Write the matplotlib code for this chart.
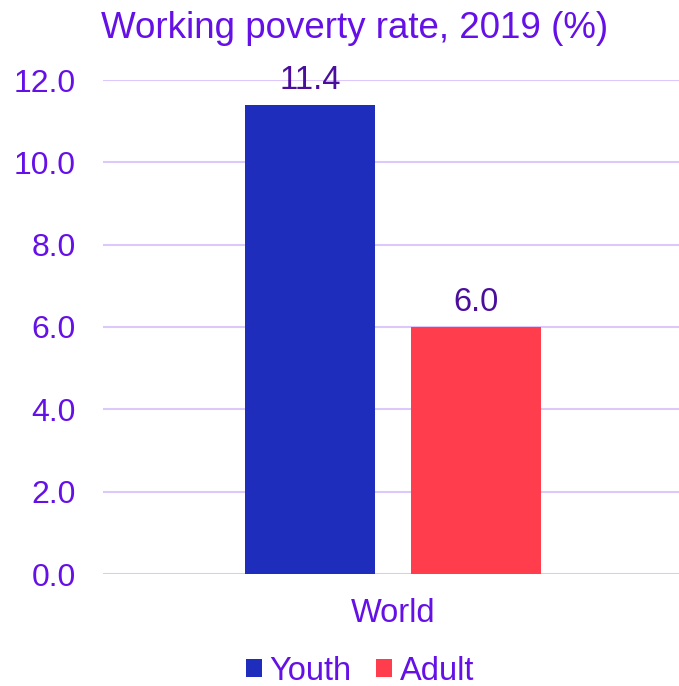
import numpy as np
import matplotlib.pyplot as plt

plt.rcParams['font.family'] = ['Liberation Sans', 'DejaVu Sans']

categories = ["World"]
series_names = ["Youth", "Adult"]
youth = [11.4]
adult = [6.0]
yticks = [0, 2, 4, 6, 8, 10, 12]

purple = "#6410e6"
label_col = "#4a0d9c"
grid_col = "#dcc8fa"
colors = ["#1f2dbd", "#ff3d4d"]

fig = plt.figure(figsize=(6.79, 6.86), dpi=100)
ax = fig.add_axes([103 / 679, (686 - 574) / 686, (679 - 103) / 679, (574 - 80) / 686])

x = np.arange(len(categories))
w = 0.227
gap = 0.061
b1 = ax.bar(x - (w + gap) / 2, youth, w, color=colors[0], label=series_names[0], zorder=3)
b2 = ax.bar(x + (w + gap) / 2, adult, w, color=colors[1], label=series_names[1], zorder=3)

for bars in (b1, b2):
    for r in bars:
        ax.text(r.get_x() + r.get_width() / 2, r.get_height() + 0.22, f"{r.get_height():.1f}",
                ha="center", va="bottom", fontsize=23.5, color=label_col, zorder=4)

ax.set_xlim(-0.5035, 0.4965)
ax.set_ylim(0, 12)
ax.set_yticks(yticks)
ax.set_yticklabels([f"{v:.1f}" for v in yticks], fontsize=23, color=purple)
ax.set_xticks(x)
ax.set_xticklabels(categories, fontsize=23.5, color=purple)
ax.tick_params(axis="both", length=0)
ax.tick_params(axis="y", pad=19.5)
ax.tick_params(axis="x", pad=17)
ax.grid(axis="y", color=grid_col, linewidth=1.5, zorder=0)
ax.set_axisbelow(True)
for s in ax.spines.values():
    s.set_visible(False)

fig.text(0.522, 0.958, "Working poverty rate, 2019 (%)", ha="center", va="center",
         fontsize=26.5, color=purple)

leg = fig.legend(loc="center", bbox_to_anchor=(0.53, 1 - 671 / 686), ncol=2, frameon=False,
                 fontsize=23.5, handlelength=0.5, handleheight=0.5, handletextpad=0.22,
                 columnspacing=0.75, borderpad=0)
for t in leg.get_texts():
    t.set_color(purple)

fig.savefig("out.png", dpi=100)
